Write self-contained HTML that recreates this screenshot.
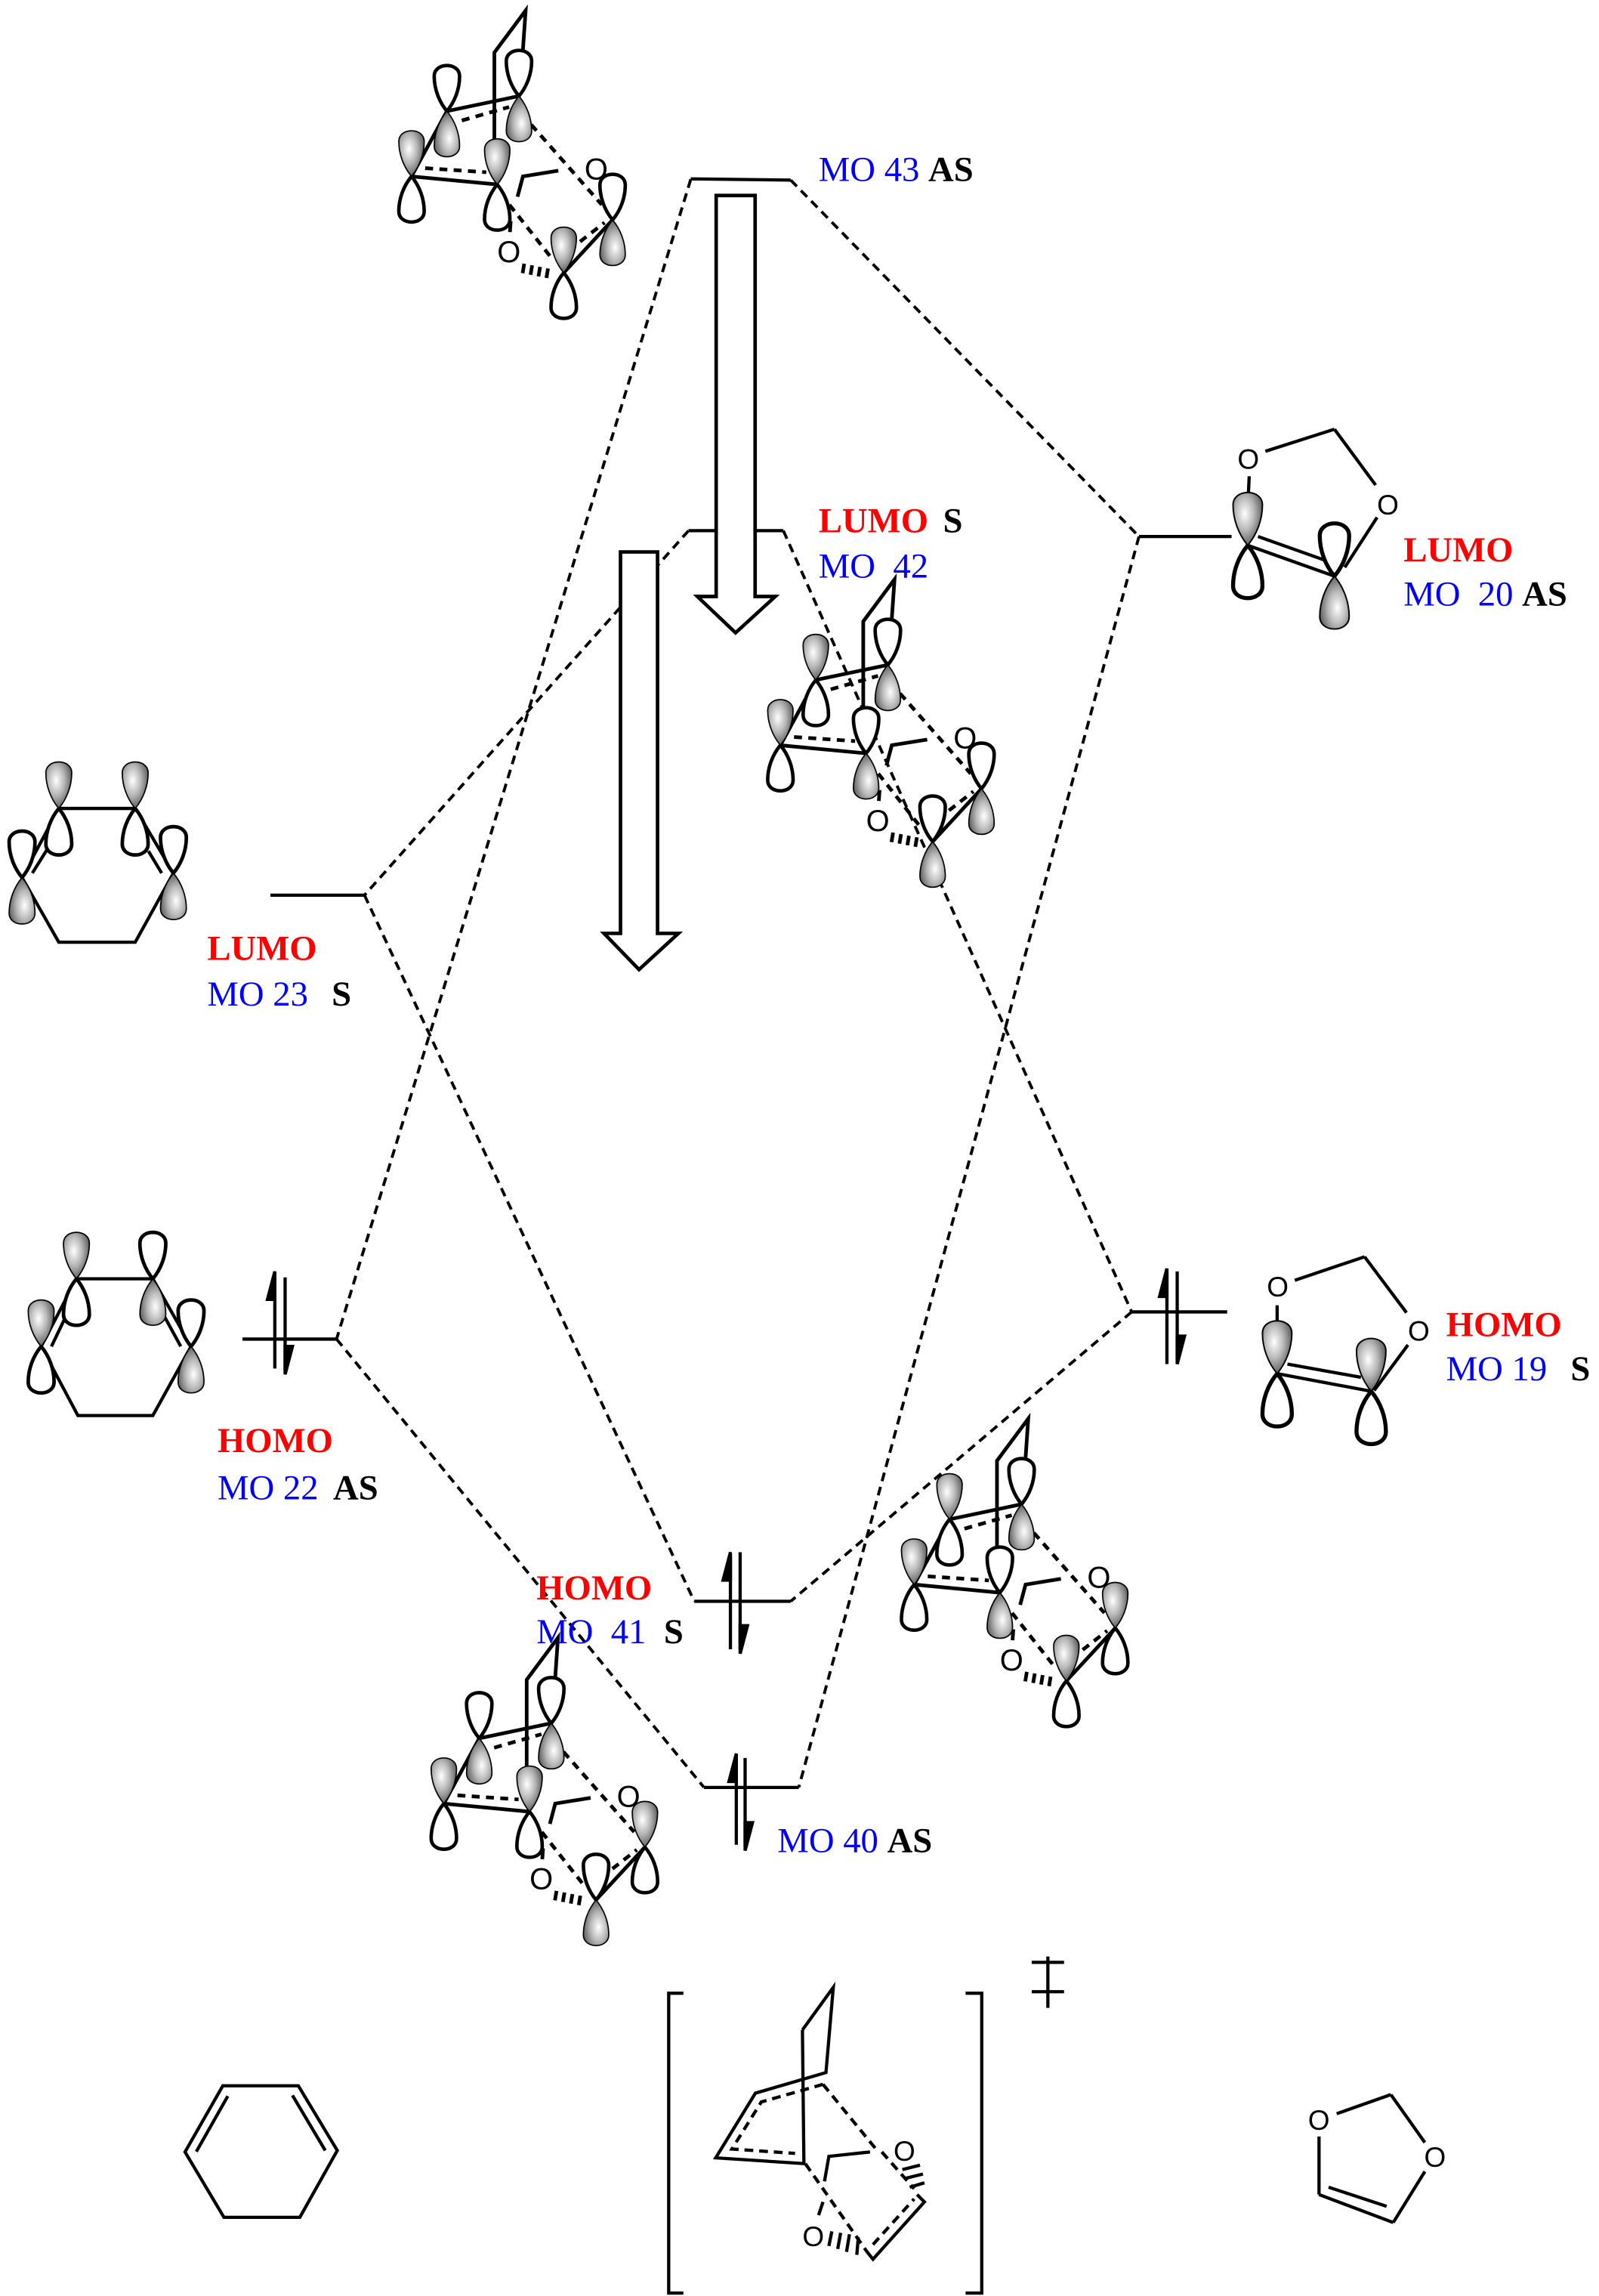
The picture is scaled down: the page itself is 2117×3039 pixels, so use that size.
<!DOCTYPE html>
<html><head><meta charset="utf-8"><style>
html,body{margin:0;padding:0;background:#fff;}
svg{display:block;}
text{font-family:"Liberation Serif",serif;font-size:24px;}
.b{fill:#0000ff;}
.r{fill:#ff0000;font-weight:bold;}
.k{fill:#000;font-weight:bold;}
.o{font-family:"Liberation Sans",sans-serif;font-size:19px;fill:#000;}
</style></head><body>
<svg width="2117" height="3039" viewBox="0 0 1088 1562" preserveAspectRatio="none" xmlns="http://www.w3.org/2000/svg" xmlns:xlink="http://www.w3.org/1999/xlink">
<defs>
<radialGradient id="g" cx="0.4" cy="0.4" r="0.7">
<stop offset="0" stop-color="#ffffff"/><stop offset="0.45" stop-color="#b8b8b8"/><stop offset="1" stop-color="#444"/>
</radialGradient>
<path id="lf" d="M0,0 C-5,-6 -8,-14 -8,-22 C-8,-31 8,-31 8,-22 C8,-14 5,-6 0,0Z" fill="url(#g)" stroke="#000" stroke-width="0.8"/>
<path id="lw" d="M0,0 C-5,-6 -8,-14 -8,-22 C-8,-31 8,-31 8,-22 C8,-14 5,-6 0,0Z" fill="#fff" stroke="#000" stroke-width="2.2"/>
<g id="uf"><use xlink:href="#lw" transform="rotate(180)"/><use xlink:href="#lf"/></g>
<g id="df"><use xlink:href="#lw"/><use xlink:href="#lf" transform="rotate(180)"/></g>
<g id="sk" fill="none" stroke="#000" stroke-width="2.3">
<polyline points="52.2,-23.2 52.2,-78 71.9,-104.5 70.2,-79.7"/>
<line x1="0" y1="0" x2="22.3" y2="-41.1"/>
<line x1="22.3" y1="-41.1" x2="67.7" y2="-50.6"/>
<line x1="0" y1="0" x2="54" y2="5.1"/>
<line x1="126.7" y1="27.4" x2="95.9" y2="60.7"/>
<polyline points="92.5,-3.6 70.2,0 66.8,12.8"/>
<line x1="62.5" y1="28.2" x2="62" y2="35.1"/>
<g stroke-dasharray="5,4">
<line x1="31.7" y1="-35.2" x2="61.5" y2="-43.7"/>
<line x1="8.6" y1="-5.2" x2="47.1" y2="-2.6"/>
<line x1="75.4" y1="-32.6" x2="119.9" y2="17.9"/>
<line x1="61.7" y1="17.9" x2="87.4" y2="50.4"/>
<line x1="106.2" y1="41.1" x2="121.6" y2="29.1"/>
</g>
<line x1="71" y1="55" x2="70" y2="61"/><line x1="76" y1="56" x2="75" y2="62"/><line x1="81" y1="57" x2="80" y2="63"/><line x1="86" y1="58" x2="85" y2="64"/>
</g>
</defs>

<g stroke="#000" stroke-width="2.2" fill="none">
<line x1="470" y1="121.7" x2="538" y2="122.5"/>
<line x1="468.5" y1="361" x2="533" y2="361"/>
<line x1="775" y1="365" x2="838" y2="365"/>
<line x1="184" y1="609" x2="248" y2="609"/>
<line x1="165" y1="911" x2="229" y2="911"/>
<line x1="770" y1="892.5" x2="835" y2="892.5"/>
<line x1="472.4" y1="1089.4" x2="538" y2="1089.4"/>
<line x1="479" y1="1216" x2="543.5" y2="1216"/>
</g>
<g stroke="#000" stroke-width="2" stroke-dasharray="6,4" fill="none">
<line x1="470" y1="122" x2="229" y2="911"/>
<line x1="538" y1="122.5" x2="775" y2="365"/>
<line x1="468.5" y1="361" x2="248" y2="609"/>
<line x1="533" y1="361" x2="770" y2="892.5"/>
<line x1="775" y1="365" x2="543.5" y2="1216"/>
<line x1="248" y1="609" x2="472.4" y2="1089.4"/>
<line x1="229" y1="911" x2="479" y2="1216"/>
<line x1="770" y1="892.5" x2="538" y2="1089.4"/>
</g>
<g stroke="#000" stroke-width="2.4" fill="#fff">
<polygon points="487.3,133 513.8,133 513.8,405.8 527.5,405.8 500.5,430.5 474.5,405.8 487.3,405.8"/>
<polygon points="422.2,375.5 447.4,375.5 447.4,635 461.6,635 434.8,659.6 411,635 422.2,635"/>
</g>
<g stroke="#000" stroke-width="2.2" fill="#000">
<line x1="187" y1="931" x2="187" y2="868"/><polygon points="187,865 187,884 182,884"/>
<line x1="194" y1="869" x2="194" y2="932"/><polygon points="194,935 194,916 199,916"/>
<line x1="794" y1="928" x2="794" y2="866"/><polygon points="794,863 794,882 789,882"/>
<line x1="801" y1="865" x2="801" y2="925"/><polygon points="801,928 801,909 806,909"/>
<line x1="497" y1="1122" x2="497" y2="1059"/><polygon points="497,1056 497,1075 492,1075"/>
<line x1="503.6" y1="1056" x2="503.6" y2="1122"/><polygon points="503.6,1125 503.6,1106 508.6,1106"/>
<line x1="501" y1="1255" x2="501" y2="1196"/><polygon points="501,1193 501,1212 496,1212"/>
<line x1="507" y1="1196" x2="507" y2="1256"/><polygon points="507,1259 507,1240 512,1240"/>
</g>

<g>
<polygon points="40,550 92,550 118,594 92,641 40,641 15,597" fill="none" stroke="#000" stroke-width="2.2"/>
<line x1="22" y1="594" x2="32" y2="578" stroke="#000" stroke-width="2.2"/>
<line x1="110" y1="594" x2="101" y2="579" stroke="#000" stroke-width="2.2"/>
<use xlink:href="#uf" transform="translate(40,550) scale(1.1)"/>
<use xlink:href="#uf" transform="translate(92,550) scale(1.1)"/>
<use xlink:href="#df" transform="translate(15,597) scale(1.1)"/>
<use xlink:href="#df" transform="translate(118,594) scale(1.1)"/>
</g>
<g>
<polygon points="52,870 104,870 130,916 104,963 53,963 28,916" fill="none" stroke="#000" stroke-width="2.2"/>
<line x1="35" y1="916" x2="46" y2="893" stroke="#000" stroke-width="2.2"/>
<line x1="123" y1="916" x2="111" y2="894" stroke="#000" stroke-width="2.2"/>
<use xlink:href="#uf" transform="translate(52,870) scale(1.1)"/>
<use xlink:href="#df" transform="translate(104,870) scale(1.1)"/>
<use xlink:href="#uf" transform="translate(28,916) scale(1.1)"/>
<use xlink:href="#df" transform="translate(130,916) scale(1.1)"/>
</g>

<g stroke="#000" stroke-width="2.2" fill="none">
<line x1="849" y1="345" x2="850" y2="324"/>
<line x1="861" y1="307" x2="908" y2="292"/>
<line x1="908" y1="292" x2="936" y2="330"/>
<line x1="937" y1="352" x2="915" y2="386"/>
<line x1="849" y1="371" x2="908" y2="392"/>
<line x1="856" y1="365" x2="904" y2="382"/>
</g>
<use xlink:href="#uf" transform="translate(849,371) scale(1.25)"/>
<use xlink:href="#df" transform="translate(908,392) scale(1.25)"/>
<text x="842" y="319" class="o">O</text>
<text x="937" y="350" class="o">O</text>
<g stroke="#000" stroke-width="2.2" fill="none">
<line x1="869" y1="908" x2="869" y2="888"/>
<line x1="881" y1="871" x2="928.5" y2="855"/>
<line x1="928.5" y1="855" x2="957" y2="893"/>
<line x1="958" y1="915" x2="935" y2="946"/>
<line x1="869" y1="934.5" x2="933" y2="946.5"/>
<line x1="876" y1="928" x2="926" y2="937"/>
</g>
<use xlink:href="#uf" transform="translate(869,934.5) scale(1.25)"/>
<use xlink:href="#uf" transform="translate(933,946.5) scale(1.25)"/>
<text x="862" y="882" class="o">O</text>
<text x="958" y="912" class="o">O</text>

<g transform="translate(280,120) scale(1.08)">
<use xlink:href="#sk"/>
<use xlink:href="#df" transform="translate(22.3,-41.1)"/>
<use xlink:href="#df" transform="translate(67.7,-50.6)"/>
<use xlink:href="#uf" transform="translate(0,0)"/>
<use xlink:href="#uf" transform="translate(54,5.1)"/>
<use xlink:href="#df" transform="translate(126.7,27.4)"/>
<use xlink:href="#uf" transform="translate(95.9,60.7)"/>
<text x="109" y="2" class="o">O</text>
<text x="54" y="54" class="o">O</text>
</g>
<g transform="translate(531,507) scale(1.08)">
<use xlink:href="#sk"/>
<use xlink:href="#uf" transform="translate(22.3,-41.1)"/>
<use xlink:href="#df" transform="translate(67.7,-50.6)"/>
<use xlink:href="#uf" transform="translate(0,0)"/>
<use xlink:href="#df" transform="translate(54,5.1)"/>
<use xlink:href="#df" transform="translate(126.7,27.4)"/>
<use xlink:href="#df" transform="translate(95.9,60.7)"/>
<text x="109" y="2" class="o">O</text>
<text x="54" y="54" class="o">O</text>
</g>
<g transform="translate(622,1078) scale(1.08)">
<use xlink:href="#sk"/>
<use xlink:href="#uf" transform="translate(22.3,-41.1)"/>
<use xlink:href="#df" transform="translate(67.7,-50.6)"/>
<use xlink:href="#uf" transform="translate(0,0)"/>
<use xlink:href="#df" transform="translate(54,5.1)"/>
<use xlink:href="#uf" transform="translate(126.7,27.4)"/>
<use xlink:href="#uf" transform="translate(95.9,60.7)"/>
<text x="109" y="2" class="o">O</text>
<text x="54" y="54" class="o">O</text>
</g>
<g transform="translate(302,1227) scale(1.08)">
<use xlink:href="#sk"/>
<use xlink:href="#df" transform="translate(22.3,-41.1)"/>
<use xlink:href="#df" transform="translate(67.7,-50.6)"/>
<use xlink:href="#uf" transform="translate(0,0)"/>
<use xlink:href="#uf" transform="translate(54,5.1)"/>
<use xlink:href="#uf" transform="translate(126.7,27.4)"/>
<use xlink:href="#df" transform="translate(95.9,60.7)"/>
<text x="109" y="2" class="o">O</text>
<text x="54" y="54" class="o">O</text>
</g>

<text x="557" y="123"><tspan class="b">MO  43 </tspan><tspan class="k">AS</tspan></text>
<text x="557" y="362"><tspan class="r">LUMO</tspan><tspan class="k" dx="10">S</tspan></text>
<text x="557" y="393" class="b" xml:space="preserve">MO  42</text>
<text x="955" y="382" class="r">LUMO</text>
<text x="955" y="412"><tspan class="b" xml:space="preserve">MO  20 </tspan><tspan class="k">AS</tspan></text>
<text x="141" y="653" class="r">LUMO</text>
<text x="141" y="684"><tspan class="b">MO 23</tspan><tspan class="k" dx="16">S</tspan></text>
<text x="148" y="988" class="r">HOMO</text>
<text x="148" y="1020"><tspan class="b">MO 22</tspan><tspan class="k" dx="10">AS</tspan></text>
<text x="984" y="909" class="r">HOMO</text>
<text x="984" y="939"><tspan class="b">MO 19</tspan><tspan class="k" dx="16">S</tspan></text>
<text x="365" y="1088" class="r">HOMO</text>
<text x="365" y="1118"><tspan class="b" xml:space="preserve">MO  41</tspan><tspan class="k" dx="12">S</tspan></text>
<text x="529" y="1260"><tspan class="b">MO 40 </tspan><tspan class="k">AS</tspan></text>

<g stroke="#000" stroke-width="2.2" fill="none">
<polygon points="151.6,1419 203,1419 229.5,1463 204,1508.5 152.4,1508.5 125.9,1464"/>
<line x1="155" y1="1426" x2="133.6" y2="1463.8"/>
<line x1="199" y1="1425.5" x2="221.3" y2="1463"/>
<polyline points="465,1356 455,1356 455,1560 465,1560"/>
<polyline points="657,1356 668,1356 668,1560 657,1560"/>
<line x1="713" y1="1331" x2="713" y2="1366"/>
<line x1="702" y1="1335" x2="724" y2="1335"/>
<line x1="702" y1="1355" x2="724" y2="1355"/>
<polyline points="546,1381 567,1352 562,1410 514,1424 487,1468 548,1472"/>
<line x1="546" y1="1381" x2="547" y2="1472"/>
<polyline points="592,1464 564,1467 561,1484"/>
<line x1="560" y1="1498" x2="557" y2="1507"/>
<polyline points="624,1493 629,1498 594,1537 590,1532"/>
<g stroke-dasharray="6,4">
<polyline points="560,1418 518,1430 498,1462 541,1465"/>
<line x1="560" y1="1418" x2="596" y2="1462"/>
<line x1="548" y1="1472" x2="590" y2="1532"/>
<line x1="600" y1="1464" x2="622" y2="1489"/>
<line x1="594" y1="1527" x2="622" y2="1496"/>
</g>
<line x1="626" y1="1473" x2="614" y2="1476"/><line x1="628" y1="1479" x2="616" y2="1482"/><line x1="629" y1="1485" x2="619" y2="1488"/>
<line x1="566" y1="1518" x2="564" y2="1528"/><line x1="572" y1="1519" x2="570" y2="1530"/><line x1="578" y1="1520" x2="576" y2="1532"/><line x1="584" y1="1522" x2="583" y2="1534"/>
<line x1="909.5" y1="1438" x2="946.4" y2="1425"/>
<line x1="946.4" y1="1425" x2="969.5" y2="1457.6"/>
<line x1="969.5" y1="1477.3" x2="948" y2="1512"/>
<line x1="948" y1="1512" x2="897.5" y2="1493"/>
<line x1="904" y1="1488" x2="943.5" y2="1501"/>
<line x1="897.5" y1="1453.5" x2="897.5" y2="1493"/>
</g>
<text x="608" y="1470" class="o">O</text>
<text x="546" y="1528" class="o">O</text>
<text x="890" y="1449" class="o">O</text>
<text x="969" y="1474" class="o">O</text>
</svg>
</body></html>
